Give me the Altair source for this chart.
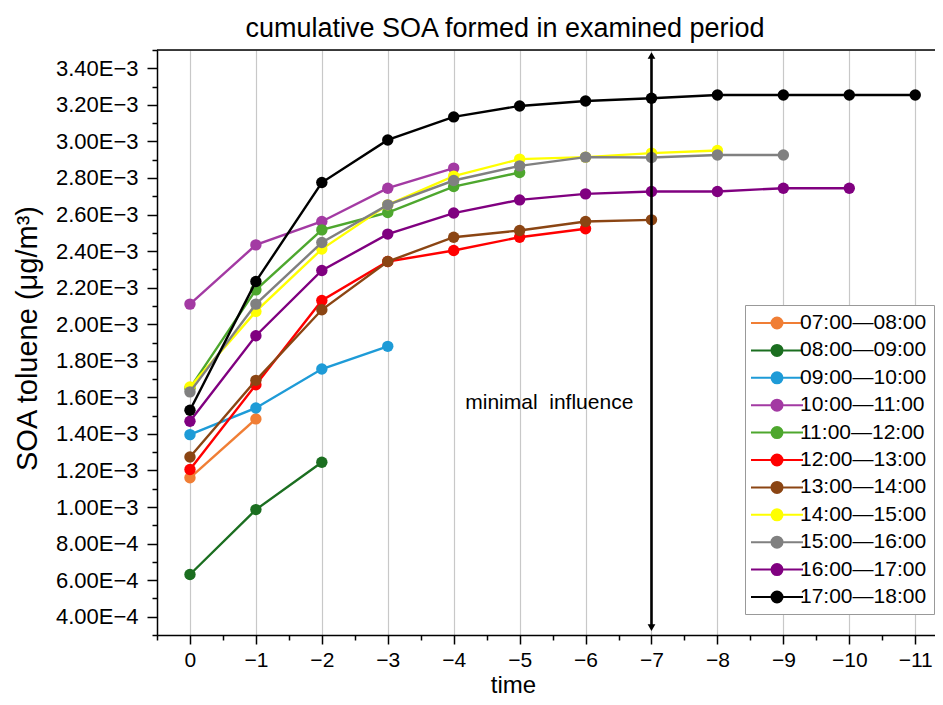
import altair as alt
import pandas as pd

# ---------------- data ----------------
time_steps = [0, -1, -2, -3, -4, -5, -6, -7, -8, -9, -10, -11]

series_names = [
    "07:00—08:00", "08:00—09:00", "09:00—10:00", "10:00—11:00",
    "11:00—12:00", "12:00—13:00", "13:00—14:00", "14:00—15:00",
    "15:00—16:00", "16:00—17:00", "17:00—18:00",
]
series_colors = [
    "#F07E35", "#1B6E20", "#1E9BD7", "#A33AA3",
    "#4EA72E", "#FF0000", "#8B4513", "#FFFF00",
    "#808080", "#800080", "#000000",
]

soa_07_08 = [1.160e-3, 1.482e-3]
soa_08_09 = [0.631e-3, 0.986e-3, 1.245e-3]
soa_09_10 = [1.396e-3, 1.542e-3, 1.755e-3, 1.879e-3]
soa_10_11 = [2.110e-3, 2.434e-3, 2.562e-3, 2.744e-3, 2.854e-3]
soa_11_12 = [1.650e-3, 2.188e-3, 2.516e-3, 2.611e-3, 2.753e-3, 2.830e-3]
soa_12_13 = [1.205e-3, 1.669e-3, 2.130e-3, 2.343e-3, 2.403e-3, 2.476e-3, 2.522e-3]
soa_13_14 = [1.274e-3, 1.693e-3, 2.079e-3, 2.343e-3, 2.476e-3, 2.513e-3, 2.562e-3, 2.571e-3]
soa_14_15 = [1.657e-3, 2.070e-3, 2.411e-3, 2.653e-3, 2.810e-3, 2.903e-3, 2.914e-3, 2.936e-3, 2.950e-3]
soa_15_16 = [1.630e-3, 2.110e-3, 2.447e-3, 2.653e-3, 2.786e-3, 2.866e-3, 2.914e-3, 2.912e-3, 2.926e-3, 2.926e-3]
soa_16_17 = [1.469e-3, 1.937e-3, 2.294e-3, 2.493e-3, 2.608e-3, 2.680e-3, 2.713e-3, 2.726e-3, 2.726e-3, 2.744e-3, 2.744e-3]
soa_17_18 = [1.529e-3, 2.234e-3, 2.775e-3, 3.008e-3, 3.134e-3, 3.194e-3, 3.221e-3, 3.236e-3, 3.254e-3, 3.254e-3, 3.254e-3, 3.254e-3]

series_values = [
    soa_07_08, soa_08_09, soa_09_10, soa_10_11, soa_11_12, soa_12_13,
    soa_13_14, soa_14_15, soa_15_16, soa_16_17, soa_17_18,
]

# axis ticks
x_major_ticks = [0, -1, -2, -3, -4, -5, -6, -7, -8, -9, -10, -11]
x_minor_ticks = [0.5, -0.5, -1.5, -2.5, -3.5, -4.5, -5.5, -6.5, -7.5, -8.5, -9.5, -10.5]
y_major_ticks = [0.4e-3, 0.6e-3, 0.8e-3, 1.0e-3, 1.2e-3, 1.4e-3, 1.6e-3, 1.8e-3,
                 2.0e-3, 2.2e-3, 2.4e-3, 2.6e-3, 2.8e-3, 3.0e-3, 3.2e-3, 3.4e-3]
y_minor_ticks = [0.3e-3, 0.5e-3, 0.7e-3, 0.9e-3, 1.1e-3, 1.3e-3, 1.5e-3, 1.7e-3,
                 1.9e-3, 2.1e-3, 2.3e-3, 2.5e-3, 2.7e-3, 2.9e-3, 3.1e-3, 3.3e-3, 3.5e-3]

# annotation data
arrow_time = [-7]
arrow_low = [0.34e-3]
arrow_high = [3.47e-3]
note_text = ["minimal\u00a0 influence"]
note_time = [-5.45]
note_soa = [1.57e-3]

# ---------------- table ----------------
rows = []
for name, vals in zip(series_names, series_values):
    for t, v in zip(time_steps, vals):
        rows.append({"period": name, "time": t, "soa": v})
df = pd.DataFrame(rows)

PLOT_W = 778
PLOT_H = 585
FONT = "Liberation Sans"

x_scale = alt.Scale(domain=[0.5, -11.3], nice=False, zero=False)
y_scale = alt.Scale(domain=[0.0003, 0.0035], nice=False, zero=False)
color_scale = alt.Scale(domain=series_names, range=series_colors)

x_axis = alt.Axis(
    values=x_major_ticks, format="d", orient="bottom",
    tickSize=9, grid=True, gridColor="#c8c8c8", gridWidth=1.2,
    title="time", titleFontSize=24, titleFont=FONT, titleFontWeight="normal",
    titleColor="black", titleX=356, titleY=57, titleBaseline="alphabetic",
    labelFontSize=21, labelFont=FONT, labelColor="black", labelPadding=5,
    domainColor="black", domainWidth=1.5, tickColor="black", tickWidth=1.5,
    labelFlush=False, labelOverlap=False,
)
y_axis = alt.Axis(
    values=y_major_ticks, orient="left",
    labelExpr="replace(format(datum.value, '.2e'), 'e-', 'E\u2212')",
    tickSize=10, grid=False,
    title="SOA toluene (\u03bcg/m\u00b3)", titleFontSize=29, titleFont=FONT,
    titleFontWeight="normal", titleColor="black",
    titleX=-115, titleY=288, titleBaseline="bottom", titleAlign="center", titleAngle=270,
    labelFontSize=22, labelFont=FONT, labelColor="black", labelPadding=9,
    domainColor="black", domainWidth=1.5, tickColor="black", tickWidth=1.5,
    labelFlush=False, labelOverlap=False,
)
x_minor = alt.Axis(
    values=x_minor_ticks, orient="bottom", tickSize=5, tickColor="black",
    tickWidth=1.5, labels=False, grid=False, domain=False, title=None,
)
y_minor = alt.Axis(
    values=y_minor_ticks, orient="left", tickSize=5, tickColor="black",
    tickWidth=1.5, labels=False, grid=False, domain=False, title=None,
)

legend = alt.Legend(
    title=None, orient="none", legendX=588, legendY=255,
    symbolType="M-2.6,0L-0.55,0M0.55,0L2.6,0M0.55,0A0.55,0.55,0,1,1,-0.55,0A0.55,0.55,0,1,1,0.55,0Z",
    symbolSize=400, symbolStrokeWidth=2, symbolOffset=14, labelOffset=12,
    labelFontSize=21, labelFont=FONT, labelColor="black",
    rowPadding=6.4, padding=7, strokeColor="#999999", fillColor="white",
    labelLimit=300,
)

base = alt.Chart(df)
layers = []
for name in series_names:
    sub = base.transform_filter(alt.datum.period == name)
    layers.append(
        sub.mark_line(strokeWidth=2.4).encode(
            x=alt.X("time:Q", scale=x_scale, axis=x_axis),
            y=alt.Y("soa:Q", scale=y_scale, axis=y_axis),
            stroke=alt.Stroke("period:N", scale=color_scale, legend=legend),
        )
    )
    layers.append(
        sub.mark_point(filled=True, size=130, opacity=1).encode(
            x=alt.X("time:Q", scale=x_scale, axis=x_axis),
            y=alt.Y("soa:Q", scale=y_scale, axis=y_axis),
            fill=alt.Fill("period:N", scale=color_scale, legend=legend),
        )
    )

arrow_df = pd.DataFrame({"time": arrow_time, "low": arrow_low, "high": arrow_high})
arrow_rule = alt.Chart(arrow_df).mark_rule(color="black", strokeWidth=2.6).encode(
    x=alt.X("time:Q", scale=x_scale, axis=x_axis),
    y=alt.Y("low:Q", scale=y_scale, axis=y_axis),
    y2="high:Q",
)
arrow_up = alt.Chart(arrow_df).mark_point(
    shape="triangle-up", filled=True, size=60, opacity=1, color="black"
).encode(
    x=alt.X("time:Q", scale=x_scale, axis=x_axis),
    y=alt.Y("high:Q", scale=y_scale, axis=y_axis),
)
arrow_down = alt.Chart(arrow_df).mark_point(
    shape="triangle-down", filled=True, size=60, opacity=1, color="black"
).encode(
    x=alt.X("time:Q", scale=x_scale, axis=x_axis),
    y=alt.Y("low:Q", scale=y_scale, axis=y_axis),
)

note_df = pd.DataFrame({"label": note_text, "time": note_time, "soa": note_soa})
note = alt.Chart(note_df).mark_text(
    font=FONT, fontSize=21, color="black", align="center", baseline="middle"
).encode(
    x=alt.X("time:Q", scale=x_scale, axis=x_axis),
    y=alt.Y("soa:Q", scale=y_scale, axis=y_axis),
    text="label:N",
)

top_frame = alt.Chart(arrow_df).mark_rule(color="black", strokeWidth=1.5).encode(
    x=alt.value(0), x2=alt.value(PLOT_W), y=alt.value(0)
)

data_layer = alt.layer(*layers, arrow_rule, arrow_up, arrow_down, note, top_frame)

minor_layer = alt.Chart(df).mark_point(opacity=0).encode(
    x=alt.X("time:Q", scale=x_scale, axis=x_minor),
    y=alt.Y("soa:Q", scale=y_scale, axis=y_minor),
)

chart = alt.layer(data_layer, minor_layer).resolve_axis(
    x="independent", y="independent"
).properties(
    width=PLOT_W,
    height=PLOT_H,
    title=alt.TitleParams(
        "cumulative SOA formed in examined period",
        fontSize=27, font=FONT, fontWeight="normal", color="black",
        anchor="middle", dx=-41, dy=-6, offset=0,
    ),
    autosize=alt.AutoSizeParams(type="none"),
    padding={"left": 149, "top": 42, "right": 0, "bottom": 62},
).configure_view(stroke=None).configure(background="white")

chart.save("out.html", embed_options={"renderer": "svg", "actions": False})
